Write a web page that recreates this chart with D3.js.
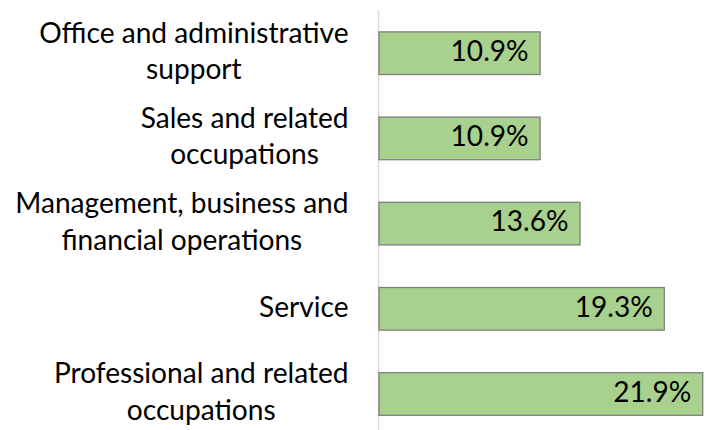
<!DOCTYPE html>
<html>
<head>
<meta charset="utf-8">
<script src="https://cdn.jsdelivr.net/npm/d3@7"></script>
<style>
  html, body { margin: 0; padding: 0; background: #fff; }
  svg { display: block; }
</style>
</head>
<body>
<svg id="chart" width="711" height="430"></svg>
<script>
const categories = [
  "Office and administrative\nsupport",
  "Sales and related\noccupations",
  "Management, business and\nfinancial operations",
  "Service",
  "Professional and related\noccupations"
];
const values = [10.9, 10.9, 13.6, 19.3, 21.9];
const valueLabels = ["10.9%", "10.9%", "13.6%", "19.3%", "21.9%"];

const W = 711, H = 430;
const fontFamily = "Lato, 'Open Sans', sans-serif";
const svg = d3.select("#chart");

// find font size so first category line roughly matches reference width
const probe = svg.append("text").attr("font-family", fontFamily).attr("font-size", 28)
  .text("Office and administrative");
const w28 = probe.node().getComputedTextLength();
probe.remove();
const fontSize = Math.round(28 * 309 / w28 * 10) / 10;

const plotLeft = 379, plotRight = 704.2;
const x = d3.scaleLinear().domain([0, 22]).range([plotLeft, plotRight]);
const y = d3.scaleBand().domain(d3.range(categories.length))
  .range([10.6, 436.6]).paddingInner(0.5).paddingOuter(0.25);

// axis line
svg.append("line")
  .attr("x1", plotLeft - 0.5).attr("x2", plotLeft - 0.5)
  .attr("y1", 10).attr("y2", H)
  .attr("stroke", "#d9d9d9").attr("stroke-width", 1.5);

// bars
svg.selectAll("rect.bar").data(values).join("rect")
  .attr("class", "bar")
  .attr("x", x(0))
  .attr("y", (d, i) => y(i))
  .attr("width", d => x(d) - x(0))
  .attr("height", y.bandwidth())
  .attr("fill", "#a9d18e")
  .attr("stroke", "#7f7f7f")
  .attr("stroke-width", 1.3);

// value labels
svg.selectAll("text.val").data(values).join("text")
  .attr("class", "val")
  .attr("x", d => x(d) - 11.5)
  .attr("y", (d, i) => y(i) + y.bandwidth() / 2 + 7.7)
  .attr("text-anchor", "end")
  .attr("font-family", fontFamily)
  .attr("font-size", fontSize)
  .attr("fill", "#000")
  .text((d, i) => valueLabels[i]);

// category labels (lines centered, block right-aligned)
const labelRight = 348.5, lineGap = 36.6;
categories.forEach((c, i) => {
  const lines = c.split("\n");
  const cy = y(i) + y.bandwidth() / 2 + 7.7;
  const g = svg.append("g");
  const texts = lines.map((ln, k) => g.append("text")
    .attr("font-family", fontFamily)
    .attr("font-size", fontSize)
    .attr("fill", "#000")
    .attr("text-anchor", "middle")
    .attr("y", cy + (k - (lines.length - 1) / 2) * lineGap)
    .text(ln));
  const maxW = d3.max(texts, t => t.node().getComputedTextLength());
  texts.forEach(t => t.attr("x", labelRight - maxW / 2));
});
</script>
</body>
</html>
